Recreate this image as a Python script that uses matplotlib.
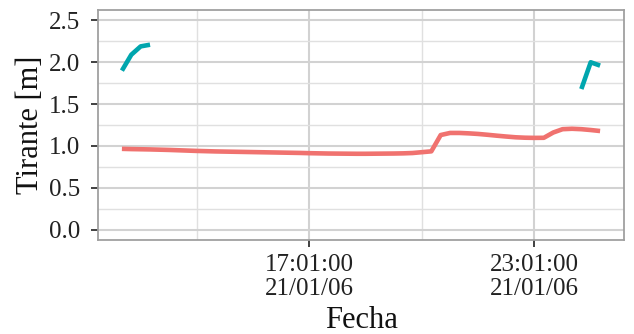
import numpy as np
import pandas as pd
import matplotlib
matplotlib.use("Agg")
import matplotlib.pyplot as plt
import matplotlib.dates as mdates

# Water depth readings every 15 minutes
start_time = "2006-01-21 12:01:00"
n_points = 52
tirante_a = [0.965, 0.962, 0.960, 0.958, 0.955, 0.952, 0.948, 0.944, 0.940, 0.937,
             0.934, 0.932, 0.930, 0.928, 0.926, 0.924, 0.922, 0.920, 0.918, 0.916,
             0.913, 0.911, 0.909, 0.908, 0.907, 0.906, 0.906, 0.907, 0.908, 0.909,
             0.911, 0.915, 0.925, 0.935, 1.130, 1.155, 1.155, 1.150, 1.143, 1.133,
             1.122, 1.112, 1.103, 1.098, 1.096, 1.097, 1.160, 1.200, 1.205, 1.200,
             1.190, 1.178]
tirante_b = [1.90, 2.09, 2.19, 2.21] + [np.nan] * 45 + [1.68, 2.00, 1.96]

major_ticks = ["2006-01-21 17:01:00", "2006-01-21 23:01:00"]
minor_ticks = ["2006-01-21 14:01:00", "2006-01-21 20:01:00"]
y_ticks = [0.0, 0.5, 1.0, 1.5, 2.0, 2.5]
y_minor = [0.25, 0.75, 1.25, 1.75, 2.25]

fecha = pd.date_range(start_time, periods=n_points, freq="15min")

plt.rcParams["font.family"] = ["Liberation Serif", "DejaVu Serif"]

fig = plt.figure(figsize=(6.34, 3.34), dpi=100)
ax = fig.add_axes([98 / 634, 1 - 240 / 334, 526 / 634, 230 / 334])

col_a = "#F0726F"
col_b = "#00A6AE"
ax.plot(fecha, tirante_a, color=col_a, lw=3.3, solid_capstyle="butt", zorder=3)
ax.plot(fecha, tirante_b, color=col_b, lw=3.3, solid_capstyle="butt", zorder=3)

# 5% expansion on both ends of the time range
xnum = mdates.date2num(fecha)
span = xnum[-1] - xnum[0]
ax.set_xlim(xnum[0] - 0.05 * span, xnum[-1] + 0.05 * span)
ax.set_ylim(-0.125, 2.625)

ax.set_xticks(mdates.date2num(pd.to_datetime(major_ticks)))
ax.set_xticks(mdates.date2num(pd.to_datetime(minor_ticks)), minor=True)
ax.xaxis.set_major_formatter(mdates.DateFormatter("%H:%M:%S\n%d/%m/%y"))
ax.set_yticks(y_ticks)
ax.set_yticklabels([f"{v:.1f}" for v in y_ticks])
ax.set_yticks(y_minor, minor=True)

ax.grid(which="major", color="#d2d2d2", lw=1.5, zorder=0)
ax.grid(which="minor", color="#e0e0e0", lw=1.0, zorder=0)
ax.set_axisbelow(True)

for s in ax.spines.values():
    s.set_color("#a0a0a0")
    s.set_linewidth(1.3)

ax.tick_params(which="major", length=5, width=1.3, color="#333333",
               labelsize=18, labelcolor="#222222")
ax.tick_params(axis="y", pad=8)
ax.tick_params(axis="x", pad=5)
ax.tick_params(which="minor", length=0)
for lbl in ax.get_xticklabels():
    lbl.set_linespacing(1.15)

ax.set_xlabel("Fecha", fontsize=22, color="#111111")
ax.xaxis.set_label_coords(0.5, -0.285)
ax.set_ylabel("Tirante [m]", fontsize=22, color="#111111")
ax.yaxis.set_label_coords(-0.100, 0.5)

fig.savefig("out.png", dpi=100)
